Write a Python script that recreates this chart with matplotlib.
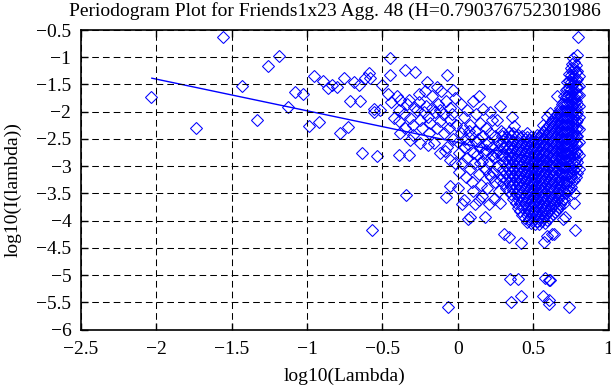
import matplotlib
matplotlib.use("Agg")
import matplotlib.pyplot as plt
import numpy as np

plt.rcParams['font.family'] = ['Liberation Serif', 'DejaVu Serif']

title_text = "Periodogram Plot for Friends1x23 Agg. 48 (H=0.790376752301986"
x_label = "log10(Lambda)"
y_label = "log10(I(lambda))"

x_ticks = [-2.5, -2, -1.5, -1, -0.5, 0, 0.5, 1]
x_ticklabels = ["\u22122.5", "\u22122", "\u22121.5", "\u22121", "\u22120.5", "0", "0.5", "1"]
y_ticks = [-6, -5.5, -5, -4.5, -4, -3.5, -3, -2.5, -2, -1.5, -1, -0.5]
y_ticklabels = ["\u22126", "\u22125.5", "\u22125", "\u22124.5", "\u22124", "\u22123.5", "\u22123",
                "\u22122.5", "\u22122", "\u22121.5", "\u22121", "\u22120.5"]

# fitted regression line endpoints (log10 lambda, log10 I)
fit_x = [-2.03, 0.80]
fit_y = [-1.385, -3.03]

# sparse low-frequency points
left_pts = [(-2.035, -1.735), (-1.736, -2.30), (-1.559, -0.62), (-1.433, -1.52), (-1.333, -2.15),
            (-1.256, -1.17), (-1.185, -0.97), (-1.128, -1.91), (-1.079, -1.63), (-1.030, -1.67),
            (-0.990, -2.27), (-0.957, -1.34), (-0.918, -2.19), (-0.891, -1.44), (-0.858, -1.57),
            (-0.836, -1.51), (-0.802, -1.54), (-0.780, -2.40), (-0.758, -1.375), (-0.730, -2.29),
            (-0.714, -1.80), (-0.687, -1.45), (-0.658, -1.51), (-0.647, -1.80), (-0.636, -2.76),
            (-0.614, -1.39), (-0.586, -1.29), (-0.581, -1.39), (-0.570, -4.17), (-0.559, -2.00),
            (-0.554, -1.955), (-0.537, -2.81), (-0.515, -1.97), (-0.503, -1.51)]

mid_pts = [(-0.448, -1.02), (-0.448, -1.325), (-0.46, -1.67), (-0.443, -1.815), (-0.42, -2.12),
           (-0.404, -1.72), (-0.393, -1.97), (-0.393, -2.18), (-0.382, -1.78), (-0.382, -2.40),
           (-0.393, -2.79), (-0.36, -2.05), (-0.353, -1.23), (-0.35, -2.30), (-0.342, -3.53),
           (-0.34, -1.85), (-0.327, -1.78), (-0.327, -2.79), (-0.316, -2.12), (-0.316, -2.52),
           (-0.30, -2.25), (-0.30, -2.42), (-0.293, -1.91), (-0.282, -1.28), (-0.271, -1.97),
           (-0.26, -1.83), (-0.26, -1.68), (-0.249, -2.15), (-0.249, -2.58), (-0.24, -2.30),
           (-0.227, -2.00), (-0.22, -1.62), (-0.21, -1.90), (-0.205, -1.45), (-0.20, -2.10),
           (-0.20, -2.62), (-0.19, -2.40), (-0.183, -2.21), (-0.172, -1.94), (-0.17, -1.72),
           (-0.161, -2.58), (-0.15, -2.00), (-0.14, -2.30), (-0.138, -1.55), (-0.13, -1.85),
           (-0.12, -2.75), (-0.116, -1.97), (-0.116, -2.18), (-0.11, -1.62), (-0.10, -2.05),
           (-0.09, -2.40), (-0.083, -2.73), (-0.08, -1.80), (-0.078, -3.56), (-0.072, -1.325),
           (-0.072, -2.64), (-0.066, -5.58), (-0.06, -2.30), (-0.05, -1.94), (-0.05, -2.15),
           (-0.05, -2.885), (-0.05, -3.36), (-0.04, -2.05), (-0.03, -2.50), (-0.03, -1.60),
           (-0.02, -1.75), (-0.02, -2.95), (-0.01, -2.25)]

low_pts = [(0.02, -1.85), (0.04, -2.10), (0.061, -1.97), (0.08, -2.25), (0.10, -1.80), (0.12, -2.05),
           (0.138, -1.72), (0.15, -2.20), (0.17, -1.95), (0.19, -2.30), (0.216, -2.00), (0.23, -2.15),
           (0.26, -2.15), (0.28, -1.90), (0.29, -2.35),
           (0.00, -2.55), (0.01, -2.75), (0.02, -2.40), (0.03, -2.95), (0.04, -2.65), (0.05, -2.50),
           (0.06, -2.85), (0.07, -2.60), (0.08, -3.05), (0.09, -2.45), (0.10, -2.75), (0.11, -2.95),
           (0.12, -2.55), (0.13, -2.80), (0.14, -3.15), (0.15, -2.65), (0.16, -2.90), (0.17, -2.45),
           (0.18, -3.05), (0.19, -2.70), (0.20, -2.55), (0.21, -2.95), (0.22, -3.20), (0.23, -2.65),
           (0.24, -2.85), (0.25, -2.45), (0.26, -3.00), (0.27, -2.70), (0.28, -3.25), (0.29, -2.60),
           (0.005, -3.10), (0.035, -2.30), (0.055, -3.20), (0.075, -2.35), (0.095, -3.30),
           (0.115, -2.35), (0.135, -2.50), (0.155, -3.35), (0.175, -2.75), (0.195, -3.40),
           (0.215, -2.40), (0.235, -3.10), (0.255, -2.75), (0.275, -3.45), (0.295, -2.45),
           (0.145, -2.95), (0.185, -2.60), (0.225, -2.80), (0.265, -2.55), (0.205, -3.15),
           (0.245, -3.30), (0.285, -2.80),
           (0.028, -3.69), (0.04, -3.62), (0.065, -3.97), (0.08, -3.93), (0.112, -3.69),
           (0.14, -3.62), (0.183, -3.94), (0.0, -3.40), (0.16, -3.55), (0.24, -3.60), (0.282, -3.68),
           (0.10, -3.45), (0.21, -3.70)]

# dense high-frequency region, read column by column
core_x = [0.302, 0.318, 0.337, 0.351, 0.368, 0.383, 0.399, 0.414, 0.428, 0.443, 0.457, 0.471, 0.486,
          0.499, 0.513, 0.527, 0.541, 0.554, 0.567, 0.581, 0.594, 0.607, 0.619, 0.632, 0.645, 0.657,
          0.669, 0.681, 0.693, 0.704, 0.716, 0.727, 0.738, 0.749, 0.760, 0.771, 0.782, 0.792, 0.802]
core_y = [
    [-2.40, -2.53, -2.66, -2.79, -2.92, -3.05, -3.18, -3.31],
    [-2.46, -2.60, -2.73, -2.86, -2.99, -3.12, -3.26, -3.40],
    [-2.38, -2.51, -2.64, -2.77, -2.90, -3.03, -3.16, -3.29, -3.45],
    [-2.45, -2.58, -2.71, -2.84, -2.97, -3.10, -3.23, -3.37, -3.52],
    [-2.40, -2.53, -2.66, -2.79, -2.92, -3.05, -3.18, -3.31, -3.44, -3.60],
    [-2.46, -2.60, -2.73, -2.86, -2.99, -3.12, -3.25, -3.38, -3.52, -3.68],
    [-2.42, -2.55, -2.68, -2.81, -2.94, -3.07, -3.20, -3.33, -3.46, -3.60, -3.76],
    [-2.48, -2.61, -2.74, -2.87, -3.00, -3.13, -3.26, -3.39, -3.53, -3.67, -3.83],
    [-2.44, -2.57, -2.70, -2.83, -2.96, -3.09, -3.22, -3.35, -3.48, -3.61, -3.75, -3.90],
    [-2.50, -2.63, -2.76, -2.89, -3.02, -3.15, -3.28, -3.41, -3.54, -3.67, -3.81, -3.96],
    [-2.46, -2.59, -2.72, -2.85, -2.98, -3.11, -3.24, -3.37, -3.50, -3.63, -3.76, -3.90, -4.02],
    [-2.52, -2.65, -2.78, -2.91, -3.04, -3.17, -3.30, -3.43, -3.56, -3.69, -3.83, -3.97],
    [-2.47, -2.60, -2.73, -2.86, -2.99, -3.12, -3.25, -3.38, -3.51, -3.64, -3.77, -3.91, -4.05],
    [-2.53, -2.66, -2.79, -2.92, -3.05, -3.18, -3.31, -3.44, -3.57, -3.70, -3.84, -3.98],
    [-2.48, -2.61, -2.74, -2.87, -3.00, -3.13, -3.26, -3.39, -3.52, -3.65, -3.78, -3.92, -4.06],
    [-2.43, -2.56, -2.69, -2.82, -2.95, -3.08, -3.21, -3.34, -3.47, -3.60, -3.73, -3.87, -4.00],
    [-2.48, -2.61, -2.74, -2.87, -3.00, -3.13, -3.26, -3.39, -3.52, -3.65, -3.79, -3.93, -4.07],
    [-2.42, -2.55, -2.68, -2.81, -2.94, -3.07, -3.20, -3.33, -3.46, -3.59, -3.72, -3.86, -4.00],
    [-2.37, -2.50, -2.63, -2.76, -2.89, -3.02, -3.15, -3.28, -3.41, -3.54, -3.67, -3.81, -3.95],
    [-2.33, -2.46, -2.59, -2.72, -2.85, -2.98, -3.11, -3.24, -3.37, -3.50, -3.63, -3.77, -3.91, -4.04],
    [-2.28, -2.41, -2.54, -2.67, -2.80, -2.93, -3.06, -3.19, -3.32, -3.45, -3.58, -3.72, -3.86, -3.99],
    [-2.24, -2.37, -2.50, -2.63, -2.76, -2.89, -3.02, -3.15, -3.28, -3.41, -3.54, -3.68, -3.82, -3.96],
    [-2.19, -2.32, -2.45, -2.58, -2.71, -2.84, -2.97, -3.10, -3.23, -3.36, -3.49, -3.63, -3.77, -3.92],
    [-2.14, -2.27, -2.40, -2.53, -2.66, -2.79, -2.92, -3.05, -3.18, -3.31, -3.44, -3.58, -3.72, -3.88],
    [-2.09, -2.22, -2.35, -2.48, -2.61, -2.74, -2.87, -3.00, -3.13, -3.26, -3.39, -3.53, -3.67, -3.84],
    [-2.04, -2.17, -2.30, -2.43, -2.56, -2.69, -2.82, -2.95, -3.08, -3.21, -3.34, -3.48, -3.63, -3.80],
    [-1.99, -2.12, -2.25, -2.38, -2.51, -2.64, -2.77, -2.90, -3.03, -3.16, -3.29, -3.43, -3.58, -3.75],
    [-1.93, -2.06, -2.19, -2.32, -2.45, -2.58, -2.71, -2.84, -2.97, -3.10, -3.23, -3.37, -3.52, -3.70],
    [-1.85, -1.98, -2.11, -2.24, -2.37, -2.50, -2.63, -2.76, -2.89, -3.02, -3.15, -3.29, -3.44, -3.62],
    [-1.72, -1.85, -1.98, -2.11, -2.24, -2.37, -2.50, -2.63, -2.76, -2.89, -3.02, -3.16, -3.31, -3.48, -3.60],
    [-1.60, -1.73, -1.86, -1.99, -2.12, -2.25, -2.38, -2.51, -2.64, -2.77, -2.90, -3.03, -3.17, -3.32, -3.50],
    [-1.45, -1.58, -1.71, -1.84, -1.97, -2.10, -2.23, -2.36, -2.49, -2.62, -2.75, -2.88, -3.01, -3.15, -3.30, -3.46],
    [-1.30, -1.43, -1.56, -1.69, -1.82, -1.95, -2.08, -2.21, -2.34, -2.47, -2.60, -2.73, -2.86, -2.99, -3.13, -3.28, -3.44],
    [-1.20, -1.33, -1.46, -1.59, -1.72, -1.85, -1.98, -2.11, -2.24, -2.37, -2.50, -2.63, -2.76, -2.89, -3.03, -3.18, -3.38],
    [-1.12, -1.25, -1.38, -1.51, -1.64, -1.77, -1.90, -2.03, -2.16, -2.29, -2.42, -2.55, -2.68, -2.81, -2.95, -3.10, -3.30],
    [-1.08, -1.21, -1.34, -1.47, -1.60, -1.73, -1.86, -1.99, -2.12, -2.25, -2.38, -2.51, -2.64, -2.78, -2.92, -3.08, -3.25],
    [-1.15, -1.28, -1.41, -1.54, -1.67, -1.80, -1.93, -2.06, -2.19, -2.32, -2.45, -2.58, -2.72, -2.86, -3.02, -3.20],
    [-1.25, -1.40, -1.55, -1.70, -1.85, -2.00, -2.15, -2.30, -2.45, -2.60, -2.76, -2.93, -3.12],
    [-1.35, -1.52, -1.70, -1.90, -2.10, -2.32, -2.55, -2.80, -3.05],
]

# isolated points around the dense region
outer_pts = [(0.798, -0.62), (0.791, -0.96), (0.767, -1.01), (0.776, -4.17), (0.736, -5.58),
             (0.702, -3.68), (0.769, -3.68), (0.769, -3.50), (0.714, -3.93), (0.698, -3.97),
             (0.59, -4.29), (0.636, -4.24), (0.625, -4.25), (0.57, -4.40), (0.42, -4.41),
             (0.337, -4.30), (0.304, -4.24), (0.349, -5.07), (0.40, -5.07), (0.581, -5.06),
             (0.614, -5.09), (0.603, -5.09), (0.422, -5.38), (0.355, -5.50), (0.565, -5.39),
             (0.607, -5.53), (0.603, -5.45), (0.36, -2.09), (0.37, -2.27), (0.459, -2.40),
             (0.659, -1.72), (0.592, -2.09), (0.568, -2.24), (0.614, -2.02)]

W, H = 611, 385
fig = plt.figure(figsize=(W / 100, H / 100), dpi=100)
ax = fig.add_axes([81 / W, 1 - 329.5 / H, (608.5 - 81) / W, (329.5 - 30) / H])

blue = (0, 0, 1)
mk = dict(linestyle='none', marker='D', markersize=6.6, markerfacecolor='none',
          markeredgecolor=blue, markeredgewidth=0.75)

groups = [left_pts, mid_pts, low_pts, outer_pts]
for g in groups:
    gx = [p[0] for p in g]
    gy = [p[1] for p in g]
    ax.plot(gx, gy, **mk)
for cx, cys in zip(core_x, core_y):
    ax.plot([cx] * len(cys), cys, **mk)

ax.plot(fit_x, fit_y, color=blue, linewidth=1.0)

ax.set_xlim(-2.5, 1)
ax.set_ylim(-6, -0.5)
ax.set_xticks(x_ticks)
ax.set_xticklabels(x_ticklabels)
ax.set_yticks(y_ticks)
ax.set_yticklabels(y_ticklabels)
ax.tick_params(direction='in', length=5, width=1.0, top=True, right=True,
               labelsize=14, colors='black')
ax.tick_params(axis='x', pad=8.5)
ax.tick_params(axis='y', pad=7)
for s in ax.spines.values():
    s.set_linewidth(1.2)
ax.grid(True, color='black', linestyle=(0, (6.4, 3.9)), linewidth=0.75)
ax.set_axisbelow(False)

ax.set_xlabel(x_label, fontsize=14)
ax.xaxis.set_label_coords(0.5, -0.127)
ax.set_ylabel(y_label, fontsize=14)
ax.yaxis.set_label_coords(-0.112, 0.466)

fig.text(69 / W, 1 - 16 / H, title_text, fontsize=14, ha='left', va='baseline')

fig.savefig("out.png", dpi=100)
